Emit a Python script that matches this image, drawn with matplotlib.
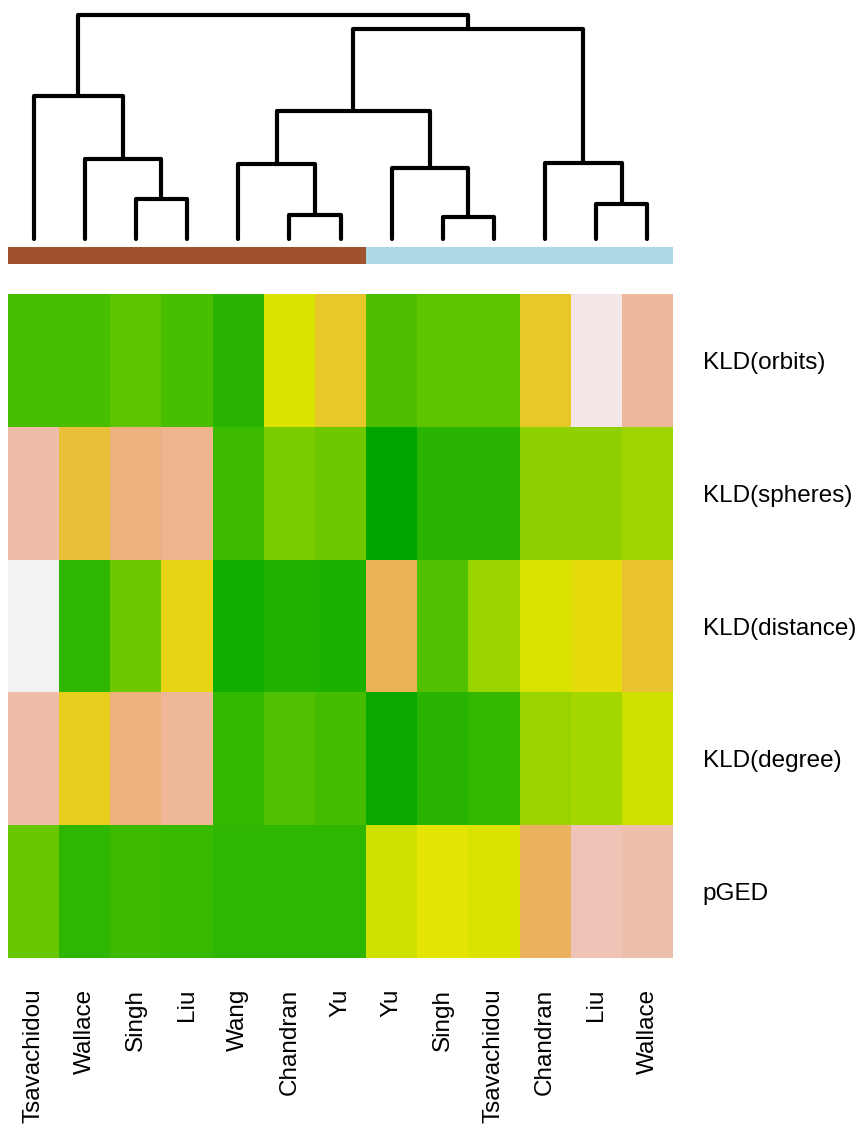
import numpy as np
import matplotlib
matplotlib.use("Agg")
import matplotlib.pyplot as plt
from matplotlib.colors import hsv_to_rgb, ListedColormap

plt.rcParams['font.family'] = ['Liberation Sans', 'DejaVu Sans']

# ------------------------------------------------------------
# Data (column order as drawn after clustering)
# ------------------------------------------------------------
columns = ["Tsavachidou", "Wallace", "Singh", "Liu", "Wang", "Chandran", "Yu",
           "Yu", "Singh", "Tsavachidou", "Chandran", "Liu", "Wallace"]
rows = ["KLD(orbits)", "KLD(spheres)", "KLD(distance)", "KLD(degree)", "pGED"]
groups = [0, 0, 0, 0, 0, 0, 0, 1, 1, 1, 1, 1, 1]
group_colors = ["#A0522D", "#ADD8E6"]

# position on the terrain palette (0 = dark green, 0.5 = yellow, 1 = white)
kld_orbits   = [0.19, 0.19, 0.24, 0.19, 0.11, 0.48, 0.585, 0.20, 0.24, 0.24, 0.585, 0.975, 0.825]
kld_spheres  = [0.85, 0.62, 0.765, 0.795, 0.16, 0.30, 0.27, 0.00, 0.11, 0.11, 0.34, 0.34, 0.37]
kld_distance = [1.00, 0.13, 0.27, 0.54, 0.05, 0.09, 0.08, 0.68, 0.21, 0.36, 0.48, 0.52, 0.60]
kld_degree   = [0.85, 0.56, 0.76, 0.82, 0.14, 0.21, 0.18, 0.03, 0.11, 0.14, 0.36, 0.38, 0.46]
pged         = [0.26, 0.13, 0.16, 0.15, 0.13, 0.13, 0.13, 0.46, 0.50, 0.48, 0.70, 0.88, 0.86]

# dendrogram merges: (left child, right child, height); leaves are 0..12,
# internal nodes numbered 13.. in order of creation
merges = [
    (2, 3, 40),     # 13 Singh-Liu
    (1, 13, 80),    # 14
    (0, 14, 143),   # 15
    (5, 6, 24),     # 16 Chandran-Yu
    (4, 16, 75),    # 17
    (8, 9, 22),     # 18 Singh-Tsavachidou
    (7, 18, 71),    # 19
    (11, 12, 35),   # 20 Liu-Wallace
    (10, 20, 76),   # 21
    (17, 19, 128),  # 22
    (22, 21, 210),  # 23
    (15, 23, 224),  # 24 root
]

# ------------------------------------------------------------
# R terrain.colors palette
# ------------------------------------------------------------
def terrain_colors(n):
    k = n // 2
    h1 = np.linspace(4 / 12, 2 / 12, k)
    s1 = np.ones(k)
    v1 = np.linspace(0.65, 0.9, k)
    h2 = np.linspace(2 / 12, 0, n - k + 1)[1:]
    s2 = np.linspace(1, 0, n - k + 1)[1:]
    v2 = np.linspace(0.9, 0.95, n - k + 1)[1:]
    hsv = np.column_stack([np.r_[h1, h2], np.r_[s1, s2], np.r_[v1, v2]])
    return hsv_to_rgb(hsv)

cmap = ListedColormap(terrain_colors(256))

W, H = 857, 1127
fig = plt.figure(figsize=(W / 100, H / 100), dpi=100)

def px_axes(x0, y0, x1, y1):
    return fig.add_axes([x0 / W, 1 - y1 / H, (x1 - x0) / W, (y1 - y0) / H])

left, right = 8, 673
n = len(columns)

# ---- dendrogram ----
ax_d = px_axes(left, 13, right, 239)
xpos = {i: i + 0.5 for i in range(n)}
ypos = {i: 0 for i in range(n)}
for k, (a, b, h) in enumerate(merges):
    node = n + k
    xa, xb = xpos[a], xpos[b]
    ax_d.plot([xa, xa, xb, xb], [ypos[a], h, h, ypos[b]], color="black",
              lw=3, solid_joinstyle="round", solid_capstyle="round",
              clip_on=False)
    xpos[node] = (xa + xb) / 2
    ypos[node] = h
ax_d.set_xlim(0, n)
ax_d.set_ylim(0, 226)
ax_d.axis("off")

# ---- group colour bar ----
ax_c = px_axes(left, 247, right, 264)
for i, g in enumerate(groups):
    ax_c.axvspan(i, i + 1, color=group_colors[g], lw=0)
ax_c.set_xlim(0, n)
ax_c.axis("off")

# ---- heatmap ----
ax_h = px_axes(left, 294, right, 958)
data = np.array([kld_orbits, kld_spheres, kld_distance, kld_degree, pged])
ax_h.pcolormesh(np.arange(n + 1), np.arange(len(rows) + 1), data,
                cmap=cmap, vmin=0, vmax=1)
ax_h.set_xlim(0, n)
ax_h.set_ylim(len(rows), 0)
for s in ax_h.spines.values():
    s.set_visible(False)
ax_h.set_xticks(np.arange(n) + 0.5)
ax_h.set_xticklabels(columns, rotation=90, fontsize=17.5)
ax_h.yaxis.tick_right()
ax_h.set_yticks(np.arange(len(rows)) + 0.5)
ax_h.set_yticklabels(rows, fontsize=17.5)
ax_h.tick_params(length=0, pad=22)
ax_h.tick_params(axis="y", pad=21.5)

fig.savefig("out.png", dpi=100)
